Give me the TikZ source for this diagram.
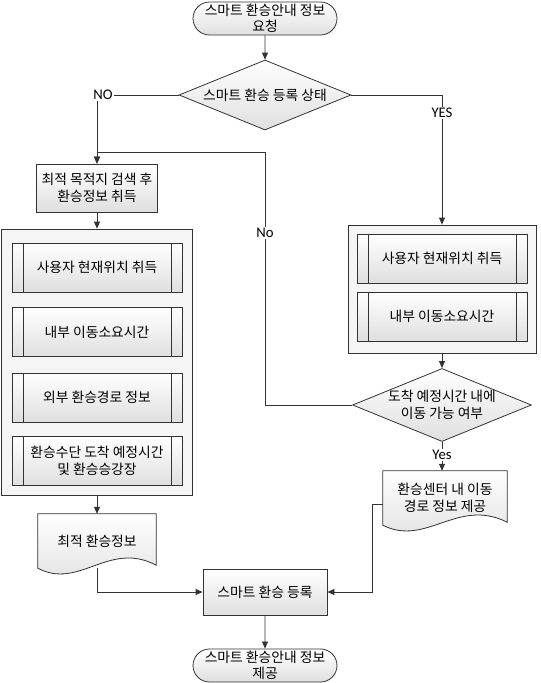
\documentclass[tikz,border=0pt]{standalone}
\usepackage{fontspec}
\setmainfont{Noto Sans CJK KR}
\newfontfamily\labelfont{Carlito}
\usetikzlibrary{arrows.meta,positioning,shapes.geometric,shapes.misc,calc,backgrounds}
% wavy document outline behind a doc node
\newcommand{\docframe}[1]{%
  \path[docfill] (#1.north west) -- (#1.north east) -- ($(#1.south east)+(0,3pt)$)
    .. controls ($(#1.south west)!0.6!(#1.south east)+(0,28pt)$) and ($(#1.south west)!0.35!(#1.south east)+(0,-22pt)$) .. (#1.south west) -- cycle;}
\tikzset{
  every node/.style={font=\fontsize{13.8pt}{16.5pt}\selectfont},
  ink/.style={draw=black!80, line width=0.8pt},
  docfill/.style={ink, top color=white, bottom color=gray!25}
}

\begin{document}
\begin{tikzpicture}[
    x=1pt, y=-1pt,
    term/.style={rounded rectangle, ink, top color=white, bottom color=gray!25, align=center, minimum width=148pt, minimum height=33pt, inner sep=2pt},
    process/.style={rectangle, ink, top color=white, bottom color=gray!25, align=center, inner sep=2pt},
    predef/.style={
        process,
        minimum width=170pt,
        minimum height=49pt,
        path picture={
            \draw[ink] ([xshift=11pt]path picture bounding box.north west) -- ([xshift=11pt]path picture bounding box.south west);
            \draw[ink] ([xshift=-11pt]path picture bounding box.north east) -- ([xshift=-11pt]path picture bounding box.south east);
        }
    },
    decision/.style={diamond, ink, top color=white, bottom color=gray!25, align=center, inner sep=0pt, aspect=2.45},
    group/.style={rectangle, ink, fill=gray!8},
    doc/.style={align=center, minimum height=54pt, inner sep=2pt},
    arrow/.style={ink, -{Triangle[length=7pt,width=6pt]}},
    lbl/.style={fill=white, inner sep=1pt, font=\labelfont\fontsize{14.7pt}{16pt}\selectfont}
]
\useasboundingbox (0,0) rectangle (541,683);

% start and first decision
\node[term] (start) at (265,18.5) {스마트 환승안내 정보\\요청};
\node[decision, minimum width=172pt, minimum height=70pt] (dec1) at (265,95) {스마트 환승 등록 상태};

% left branch
\node[process, minimum width=121pt, minimum height=48pt] (search) at (97,188) {최적 목적지 검색 후\\환승정보 취득};
\node[group, minimum width=191pt, minimum height=266pt] (lgroup) at (97,362) {};
\node[predef] (lpos) at (97,267.5) {사용자 현재위치 취득};
\node[predef] (lmove) at (97,332) {내부 이동소요시간};
\node[predef] (lroute) at (97,397.5) {외부 환승경로 정보};
\node[predef] (larrive) at (97,461) {환승수단 도착 예정시간\\및 환승승강장};
\node[doc, minimum width=118pt] (ldoc) at (97,541) {최적 환승정보};

% right branch
\node[group, minimum width=188pt, minimum height=128pt] (rgroup) at (442,289) {};
\node[predef] (rpos) at (442,258.5) {사용자 현재위치 취득};
\node[predef] (rmove) at (442,316.5) {내부 이동소요시간};
\node[decision, minimum width=170pt, minimum height=70pt] (dec2) at (442,405) {도착 예정시간 내에\\이동 가능 여부};
\node[doc, minimum width=124pt] (rdoc) at (445,498) {환승센터 내 이동\\경로 정보 제공};

% bottom
\node[process, minimum width=124pt, minimum height=46pt] (reg) at (265,592) {스마트 환승 등록};
\node[term, minimum height=32pt] (finish) at (265,665.5) {스마트 환승안내 정보\\제공};

\begin{scope}[on background layer]
  \docframe{ldoc}
  \docframe{rdoc}
\end{scope}

% bends
\coordinate (noturn) at (265,152);
\coordinate (rbend) at (372,592);

% connections
\draw[arrow] (start) -- (dec1);
\draw[arrow] (dec1.west) -| (search.north);
\draw[arrow] (dec1.east) -| (rgroup.north);
\draw[arrow] (search) -- (lgroup);
\draw[arrow] (lgroup) -- (ldoc);
\draw[arrow] (rgroup) -- (dec2);
\draw[arrow] (dec2.south) -- (dec2.south |- rdoc.north);
\draw[arrow] (dec2.west) -| (noturn) -| (search.north);
\draw[arrow] (ldoc.south) |- (reg.west);
\draw[arrow] ([yshift=-6pt]rdoc.west) -| (rbend) -- (reg.east);
\draw[arrow] (reg) -- (finish);

% branch labels
\node[lbl] (nolbl) at (103,95) {NO};
\node[lbl] (yeslbl) at (442,113) {YES};
\node[lbl] (noback) at (265,233) {No};
\node[lbl] (yesfwd) at (442,455) {Yes};

\end{tikzpicture}
\end{document}
